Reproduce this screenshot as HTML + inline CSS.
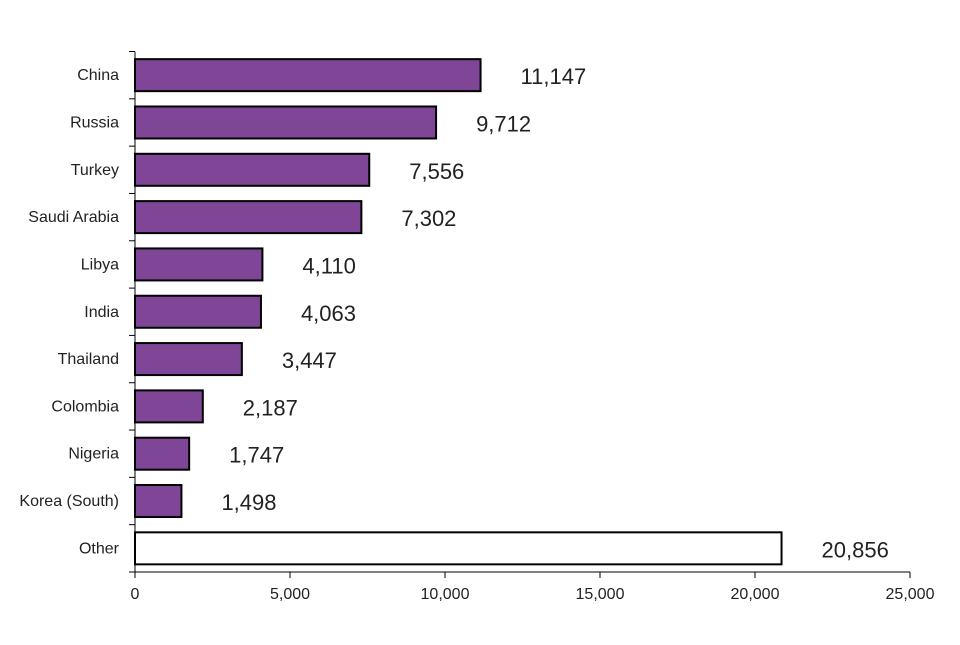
<!DOCTYPE html>
<html><head><meta charset="utf-8"><style>
body{margin:0;background:#fff}
svg{font-family:"Liberation Sans",Arial,sans-serif}
</style></head><body>
<svg id="c" width="960" height="640"></svg>
<script>
const categories=["China","Russia","Turkey","Saudi Arabia","Libya","India","Thailand","Colombia","Nigeria","Korea (South)","Other"];
const values=[11147,9712,7556,7302,4110,4063,3447,2187,1747,1498,20856];
const labels=["11,147","9,712","7,556","7,302","4,110","4,063","3,447","2,187","1,747","1,498","20,856"];
const ticks=[0,5000,10000,15000,20000,25000];
const tickLabels=["0","5,000","10,000","15,000","20,000","25,000"];
const NS="http://www.w3.org/2000/svg";
const svg=document.getElementById('c');
const x0=135,x1=910,yTop=51.5,yBottom=572,xmax=25000;
const band=(yBottom-yTop)/categories.length;
const xs=v=>x0+v/xmax*(x1-x0);
function mk(t,a,p){const e=document.createElementNS(NS,t);for(const k in a)e.setAttribute(k,a[k]);(p||svg).appendChild(e);return e;}
let ya=mk('line',{x1:x0,y1:yTop,x2:x0,y2:yBottom,stroke:'#000','stroke-width':1});


let xa=mk('line',{x1:x0,y1:yBottom,x2:x1,y2:yBottom,stroke:'#000','stroke-width':1});


for(let i=0;i<=categories.length;i++){
  const y=yTop+i*band;
  let t=mk('line',{x1:x0-6,y1:y,x2:x0,y2:y,stroke:'#000'});
  
  
}
ticks.forEach((v,i)=>{
  const x=xs(v);
  let t=mk('line',{x1:x,y1:yBottom,x2:x,y2:yBottom+6,stroke:'#000'});
  
  
  let l=mk('text',{x:x,y:599,'text-anchor':'middle','font-size':16,fill:'#222'});
  l.textContent=tickLabels[i];
  
  
});
categories.forEach((c,i)=>{
  const cy=yTop+band*(i+0.5);
  const other=c==="Other";
  let r=mk('rect',{x:x0,y:cy-16,width:xs(values[i])-x0,height:32,fill:other?'#fff':'#7f4597',stroke:'#000','stroke-width':2});
  
  
  let l=mk('text',{x:119,y:cy+5,'text-anchor':'end','font-size':16,fill:'#222'});
  l.textContent=c;
  
  
  let v=mk('text',{x:xs(values[i])+40,y:cy+9,'font-size':22,fill:'#222'});
  v.textContent=labels[i];
  
  
});
</script>
</body></html>
